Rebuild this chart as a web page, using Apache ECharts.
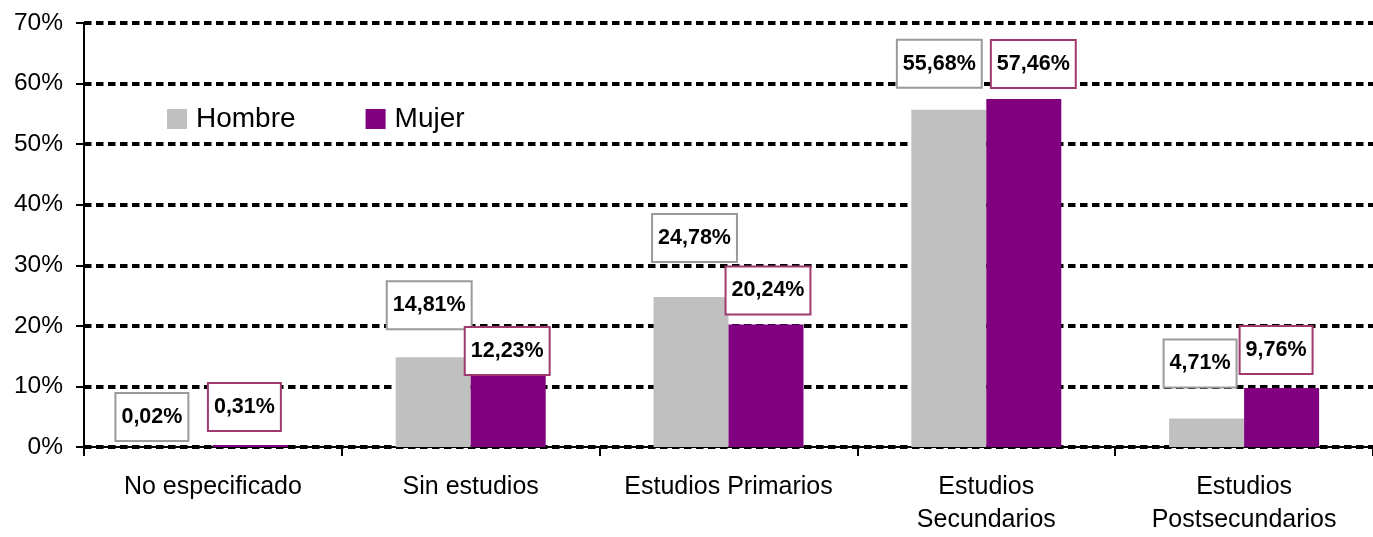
<!DOCTYPE html>
<html>
<head>
<meta charset="utf-8">
<script src="https://cdn.jsdelivr.net/npm/echarts@6/dist/echarts.min.js"></script>
<style>
html,body{margin:0;padding:0;background:#fff;}
#c{width:1373px;height:537px;}
</style>
</head>
<body>
<div id="c"></div>
<script>
// ---- data ----
const categories = ['No especificado', 'Sin estudios', 'Estudios Primarios', 'Estudios\nSecundarios', 'Estudios\nPostsecundarios'];
const seriesNames = ['Hombre', 'Mujer'];
const hombre = [0.02, 14.81, 24.78, 55.68, 4.71];
const mujer = [0.31, 12.23, 20.24, 57.46, 9.76];
const yMin = 0, yMax = 70, yStep = 10;

// ---- label placement (style only) ----
const hombreLabelOffset = [[-23.5, -7], [-4, -29], [3.5, -36], [-9.5, -23], [-6.5, -32]];
const mujerLabelOffset = [[-6, -15], [-1, 1], [2, -11], [9.5, -12], [-5.5, -15]];

const FONT = '"Liberation Sans", Arial, sans-serif';
const fmt = v => v.toFixed(2).replace('.', ',') + '%';

function labelStyle(border) {
  return {
    show: true,
    position: 'top',
    distance: 0,
    formatter: p => fmt(p.value),
    fontFamily: FONT,
    fontSize: 21.5,
    fontWeight: 'bold',
    color: '#000',
    lineHeight: 24,
    backgroundColor: '#fff',
    borderColor: border,
    borderWidth: 2,
    padding: [11, 5, 11, 5]
  };
}

const chart = echarts.init(document.getElementById('c'), null, {renderer: 'canvas'});
chart.setOption({
  animation: false,
  backgroundColor: '#fff',
  grid: {left: 84, top: 23, width: 1295, height: 430, containLabel: false},
  legend: {
    left: 162, top: 100,
    itemWidth: 20, itemHeight: 20, itemGap: 70,
    icon: 'rect',
    textStyle: {fontFamily: FONT, fontSize: 28, color: '#000', padding: [0, 0, 0, 4]},
    data: seriesNames
  },
  xAxis: {
    type: 'category',
    data: categories,
    axisLine: {lineStyle: {color: '#000', width: 2}},
    axisTick: {show: true, length: 9, lineStyle: {color: '#000', width: 2}},
    axisLabel: {fontFamily: FONT, fontSize: 25, color: '#000', lineHeight: 33, margin: 24, interval: 0}
  },
  yAxis: {
    type: 'value',
    min: yMin, max: yMax, interval: yStep,
    axisLine: {show: true, lineStyle: {color: '#000', width: 2}},
    axisTick: {show: true, length: 8, lineStyle: {color: '#000', width: 2}},
    axisLabel: {fontFamily: FONT, fontSize: 24.5, color: '#000', margin: 21, formatter: v => v + '%'},
    splitLine: {show: true, lineStyle: {color: '#000', width: 4, type: [7.5, 4.5]}}
  },
  series: [
    {
      name: seriesNames[0], type: 'bar', barWidth: 75, barGap: '0%',
      itemStyle: {color: '#C0C0C0'},
      label: labelStyle('#9a9a9a'),
      data: hombre.map((v, i) => ({value: v, label: {offset: hombreLabelOffset[i]}}))
    },
    {
      name: seriesNames[1], type: 'bar', barWidth: 75, barGap: '0%',
      itemStyle: {color: '#800080'},
      label: labelStyle('#9E3A6E'),
      data: mujer.map((v, i) => ({value: v, label: {offset: mujerLabelOffset[i]}}))
    }
  ]
});
</script>
</body>
</html>
